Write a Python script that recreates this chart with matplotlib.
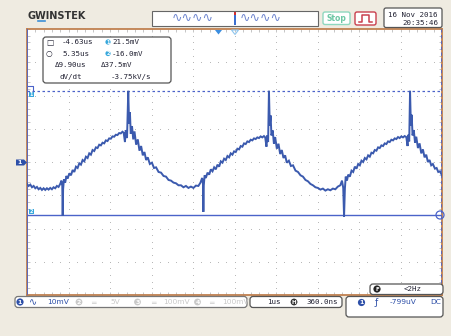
import numpy as np
import matplotlib
matplotlib.use("Agg")
import matplotlib.pyplot as plt
from matplotlib.patches import FancyBboxPatch, Rectangle, Circle, Polygon

# channel 1 trace, in divisions
# x: 0..10 left to right, y: -4..4 around the centre line
trace_x = [0.00, 0.04, 0.08, 0.12, 0.16, 0.20, 0.24, 0.28, 0.32, 0.36, 0.40, 0.44, 0.48, 0.52, 0.56,
           0.60, 0.64, 0.68, 0.72, 0.76, 0.80, 0.83, 0.85, 0.86, 0.87, 0.89, 0.92, 0.95, 0.98, 1.02,
           1.06, 1.10, 1.14, 1.18, 1.22, 1.26, 1.30, 1.34, 1.38, 1.42, 1.46, 1.50, 1.54, 1.58, 1.62,
           1.66, 1.70, 1.74, 1.78, 1.82, 1.86, 1.90, 1.94, 1.98, 2.02, 2.06, 2.10, 2.14, 2.18, 2.22,
           2.26, 2.30, 2.33, 2.36, 2.38, 2.41, 2.44, 2.46, 2.48, 2.50, 2.53, 2.56, 2.59, 2.63, 2.67,
           2.71, 2.75, 2.79, 2.83, 2.87, 2.91, 2.96, 3.01, 3.06, 3.11, 3.17, 3.23, 3.29, 3.35, 3.41,
           3.47, 3.53, 3.59, 3.65, 3.71, 3.77, 3.83, 3.89, 3.95, 4.01, 4.07, 4.13, 4.18, 4.22, 4.24,
           4.25, 4.26, 4.28, 4.31, 4.35, 4.39, 4.43, 4.47, 4.51, 4.55, 4.59, 4.63, 4.67, 4.71, 4.75,
           4.79, 4.83, 4.87, 4.91, 4.95, 4.99, 5.03, 5.07, 5.11, 5.15, 5.19, 5.23, 5.27, 5.31, 5.35,
           5.39, 5.43, 5.47, 5.51, 5.55, 5.59, 5.63, 5.67, 5.71, 5.74, 5.77, 5.79, 5.81, 5.83, 5.85,
           5.87, 5.89, 5.92, 5.95, 5.98, 6.02, 6.06, 6.10, 6.14, 6.18, 6.22, 6.26, 6.31, 6.36, 6.41,
           6.47, 6.53, 6.59, 6.65, 6.71, 6.77, 6.83, 6.89, 6.95, 7.01, 7.07, 7.13, 7.19, 7.25, 7.31,
           7.37, 7.43, 7.49, 7.55, 7.59, 7.62, 7.64, 7.66, 7.68, 7.71, 7.74, 7.78, 7.82, 7.86, 7.90,
           7.94, 7.98, 8.02, 8.06, 8.10, 8.14, 8.18, 8.22, 8.26, 8.30, 8.34, 8.38, 8.42, 8.46, 8.50,
           8.54, 8.58, 8.62, 8.66, 8.70, 8.74, 8.78, 8.82, 8.86, 8.90, 8.94, 8.98, 9.02, 9.06, 9.10,
           9.14, 9.17, 9.19, 9.21, 9.23, 9.25, 9.27, 9.29, 9.32, 9.35, 9.38, 9.42, 9.46, 9.50, 9.54,
           9.58, 9.62, 9.66, 9.70, 9.74, 9.78, 9.83, 9.87, 9.91, 9.95, 10.00]
trace_y = [-0.66, -0.72, -0.68, -0.76, -0.72, -0.79, -0.75, -0.82, -0.78, -0.84, -0.79, -0.84, -0.79, -0.83, -0.78,
           -0.82, -0.76, -0.79, -0.72, -0.75, -0.66, -0.56, -0.72, -1.62, -0.82, -0.52, -0.62, -0.42, -0.50, -0.34,
           -0.40, -0.24, -0.30, -0.14, -0.18, -0.04, -0.08, 0.06, 0.02, 0.16, 0.12, 0.26, 0.22, 0.36, 0.33,
           0.44, 0.42, 0.52, 0.50, 0.58, 0.56, 0.65, 0.63, 0.71, 0.70, 0.77, 0.76, 0.82, 0.81, 0.87,
           0.86, 0.91, 0.88, 0.60, 0.96, 0.72, 2.14, 1.15, 1.50, 0.85, 1.08, 0.68, 0.92, 0.52, 0.68,
           0.34, 0.48, 0.20, 0.30, 0.06, 0.14, -0.06, -0.02, -0.18, -0.16, -0.30, -0.32, -0.42, -0.44, -0.54,
           -0.56, -0.62, -0.64, -0.70, -0.70, -0.76, -0.72, -0.78, -0.74, -0.78, -0.71, -0.72, -0.62, -0.48, -0.66,
           -1.50, -0.70, -0.40, -0.48, -0.32, -0.38, -0.22, -0.28, -0.16, -0.22, -0.08, -0.14, 0.02, -0.02, 0.10,
           0.06, 0.18, 0.14, 0.26, 0.22, 0.32, 0.30, 0.40, 0.38, 0.48, 0.46, 0.56, 0.54, 0.62, 0.60,
           0.67, 0.65, 0.71, 0.69, 0.74, 0.72, 0.77, 0.74, 0.78, 0.74, 0.46, 0.80, 0.60, 2.14, 1.10,
           1.40, 0.80, 0.95, 0.55, 0.75, 0.40, 0.55, 0.24, 0.36, 0.12, 0.20, -0.02, 0.04, -0.12, -0.10,
           -0.26, -0.30, -0.40, -0.44, -0.54, -0.58, -0.66, -0.70, -0.76, -0.78, -0.83, -0.80, -0.86, -0.82, -0.85,
           -0.80, -0.82, -0.74, -0.70, -0.56, -0.78, -1.64, -0.80, -0.44, -0.56, -0.38, -0.44, -0.26, -0.30, -0.14,
           -0.20, -0.06, -0.10, 0.04, 0.00, 0.12, 0.08, 0.20, 0.16, 0.28, 0.26, 0.36, 0.34, 0.44, 0.42,
           0.50, 0.48, 0.56, 0.54, 0.62, 0.60, 0.67, 0.65, 0.71, 0.69, 0.75, 0.72, 0.77, 0.74, 0.78,
           0.75, 0.48, 0.82, 0.62, 2.14, 1.10, 1.42, 0.80, 0.96, 0.58, 0.76, 0.42, 0.56, 0.26, 0.38,
           0.14, 0.22, 0.00, 0.06, -0.10, -0.06, -0.20, -0.18, -0.30, -0.28, -0.40]

mv_per_div = 10.0       # CH1 10mV
us_per_div = 1.0        # 1us
h_pos_us = 0.36         # 360.0ns
cursor_t = [-4.63, 5.35]     # us
cursor_v = [21.5, -16.0]     # mV
readout_t = ["-4.63us", "5.35us", "\u03949.90us"]
readout_v = ["21.5mV", "-16.0mV", "\u039437.5mV"]
dvdt = "-3.75kV/s"

bg = "#efebe1"
frame = "#c0804f"
blue = "#3b5aae"
cur_blue = "#4b63c9"
cyan = "#38a8dc"
dark = "#222233"

W, H = 451, 336
fig = plt.figure(figsize=(W / 100, H / 100), dpi=100, facecolor=bg)

# scope screen
L, T, R, B = 27, 29, 442, 295
ax = fig.add_axes([L / W, 1 - B / H, (R - L) / W, (B - T) / H])
ax.set_xlim(0, 10)
ax.set_ylim(-4, 4)
ax.set_facecolor("white")
for s in ax.spines.values():
    s.set_color(frame)
    s.set_linewidth(1.3)
ax.set_xticks([])
ax.set_yticks([])
ax.set_xticks(np.arange(0, 10.01, 0.2), minor=True)
ax.set_yticks(np.arange(-4, 4.01, 0.2), minor=True)
ax.tick_params(which="minor", direction="in", length=2, width=0.6, color="#bbbbbb",
               top=True, right=True, labelbottom=False, labelleft=False)

# dotted graticule
for i in range(1, 10):
    yy = np.arange(-4, 4.01, 0.2)
    ax.plot(np.full_like(yy, i), yy, ls="none", marker="s", ms=0.7, color="#b5b5b5", mec="none")
for j in range(-3, 4):
    xx = np.arange(0, 10.01, 0.2)
    ax.plot(xx, np.full_like(xx, j), ls="none", marker="s", ms=0.7, color="#b5b5b5", mec="none")

ax.plot(trace_x, trace_y, color=blue, lw=1.4, zorder=5, solid_joinstyle="miter")

# cursors
x_left = (cursor_t[0] - h_pos_us) / us_per_div + 5
x_right = (cursor_t[1] - h_pos_us) / us_per_div + 5
ax.axvline(x_left, color=cur_blue, lw=1.2, zorder=4)
ax.axvline(x_right, color=cur_blue, lw=1.2, ls=(0, (2, 1.5)), zorder=4)
ax.axhline(cursor_v[0] / mv_per_div, color=cur_blue, lw=0.9, ls=(0, (2, 2)), zorder=4)
ax.axhline(cursor_v[1] / mv_per_div, color=cur_blue, lw=1.0, zorder=4)

# overlay in pixel coordinates for the scope furniture
ov = fig.add_axes([0, 0, 1, 1], zorder=5)
ov.set_xlim(0, W)
ov.set_ylim(H, 0)
ov.axis("off")
ov.patch.set_alpha(0)


def rbox(x0, y0, x1, y1, ec="#555555", fc="white", lw=0.8, r=2):
    ov.add_patch(FancyBboxPatch((x0, y0), x1 - x0, y1 - y0, boxstyle=f"round,pad=0,rounding_size={r}",
                                ec=ec, fc=fc, lw=lw))


def badge(x, y, txt, fc, r=3.6, fs=4.5):
    ov.add_patch(Circle((x, y), r, fc=fc, ec="none"))
    ov.text(x, y + 0.3, txt, color="white", fontsize=fs, ha="center", va="center", weight="bold")


mono = "DejaVu Sans Mono"

# header
ov.text(27, 16, "GWINSTEK", fontsize=7, weight="bold", color="#333333", va="center")
ov.plot([37.5, 44.5], [20.5, 20.5], color="#3d8fd6", lw=1.2)

ov.add_patch(Rectangle((152, 11), 166, 15, fc="white", ec="#666666", lw=0.8))
ov.text(172, 18.5, "\u223f\u223f\u223f\u223f", fontsize=9, color="#6f86d0", va="center", ha="left")
ov.text(240, 18.5, "\u223f\u223f\u223f\u223f", fontsize=9, color="#6f86d0", va="center", ha="left")
ov.add_patch(Rectangle((233.5, 12), 2.5, 13, fc="#3b6fd0", ec="none"))
ov.add_patch(Rectangle((233.5, 12), 2.5, 3, fc="#d03030", ec="none"))

rbox(323, 12, 350, 24.5, ec="#8fd8bf", lw=1.0)
ov.text(336.5, 18.5, "Stop", fontsize=5.5, weight="bold", color="#6cc7a4", ha="center", va="center")
rbox(355, 12, 376, 25, ec="#c9404e", lw=1.0)
ov.plot([359, 362, 362, 369, 369, 372], [22, 22, 15, 15, 22, 22], color="#c9404e", lw=1.1)

rbox(384, 8, 442, 27.5, ec="#555555", lw=0.9)
ov.text(438, 15, "16 Nov 2016", fontsize=5.4, family=mono, ha="right", va="center", color=dark)
ov.text(438, 23, "20:35:46", fontsize=5.4, family=mono, ha="right", va="center", color=dark)

# trigger / centre markers on top edge
ov.add_patch(Polygon([[215, 30], [222, 30], [218.5, 34.5]], closed=True, fc="#3b8ee0", ec="none"))
ov.add_patch(Polygon([[231.5, 30], [238.5, 30], [235, 34.5]], closed=True, fc="none", ec="#8fc6ee", lw=0.8))

# cursor readout
rbox(43, 37, 171, 83, ec="#555555", lw=0.9, r=3)
row_y = [42, 53.5, 65, 76.5]
ov.text(46, row_y[0], "\u25a1", fontsize=5.5, ha="left", va="center", color=dark)
ov.text(46, row_y[1], "\u25cb", fontsize=5.5, ha="left", va="center", color=dark)
ov.text(62, row_y[0], readout_t[0], fontsize=5.4, family=mono, ha="left", va="center", color=dark)
ov.text(62, row_y[1], readout_t[1], fontsize=5.4, family=mono, ha="left", va="center", color=dark)
ov.text(55, row_y[2], readout_t[2], fontsize=5.4, family=mono, ha="left", va="center", color=dark)
ov.text(59, row_y[3], "dV/dt", fontsize=5.4, family=mono, ha="left", va="center", color=dark)
badge(108, row_y[0], "1", cyan, r=2.6, fs=3.5)
badge(108, row_y[1], "2", cyan, r=2.6, fs=3.5)
ov.text(112, row_y[0], readout_v[0], fontsize=5.4, family=mono, ha="left", va="center", color=dark)
ov.text(112, row_y[1], readout_v[1], fontsize=5.4, family=mono, ha="left", va="center", color=dark)
ov.text(101, row_y[2], readout_v[2], fontsize=5.4, family=mono, ha="left", va="center", color=dark)
ov.text(111, row_y[3], dvdt, fontsize=5.4, family=mono, ha="left", va="center", color=dark)

# channel 1 ground marker and cursor tags
ov.add_patch(Polygon([[16, 159.5], [24, 159.5], [27, 162.5], [24, 165.5], [16, 165.5]], closed=True,
                     fc="#2d4fa8", ec="none"))
ov.text(20, 162.7, "1", fontsize=4.5, color="white", weight="bold", ha="center", va="center")
ov.plot([28, 33, 33], [85.5, 85.5, 89.5], color=cur_blue, lw=0.8)
ov.add_patch(Rectangle((28.5, 92), 5, 5, fc=cyan, ec="none"))
ov.text(31, 94.6, "1", fontsize=3.5, color="white", weight="bold", ha="center", va="center")
ov.add_patch(Rectangle((28.5, 208.5), 5, 5, fc=cyan, ec="none"))
ov.text(31, 211.1, "2", fontsize=3.5, color="white", weight="bold", ha="center", va="center")
ov.add_patch(Circle((440, 215), 4, fc="none", ec=cur_blue, lw=0.9))

# bottom status bar
rbox(15, 296.5, 247, 307.5, ec="#777777", lw=0.9, r=3)
badge(20, 302, "1", "#2d4fa8", r=3.6)
ov.text(33, 302, "\u223f", fontsize=7, color="#2d4fa8", ha="center", va="center")
ov.text(47, 302, "10mV", fontsize=5.4, color="#2d4fa8", ha="left", va="center")
grey = "#c9c9c9"
badge(79, 302, "2", grey, r=3.4)
ov.text(93, 302, "\u2550", fontsize=5.4, color=grey, ha="center", va="center")
ov.text(110, 302, "5V", fontsize=5.4, color=grey, ha="left", va="center")
badge(137.5, 302, "3", grey, r=3.4)
ov.text(153, 302, "\u2550", fontsize=5.4, color=grey, ha="center", va="center")
ov.text(163, 302, "100mV", fontsize=5.4, color=grey, ha="left", va="center")
badge(197.5, 302, "4", grey, r=3.4)
ov.text(211.5, 302, "\u2550", fontsize=5.4, color=grey, ha="center", va="center")
ov.text(222, 302, "100mV", fontsize=5.4, color=grey, ha="left", va="center")

rbox(250, 296.5, 342, 307.5, ec="#555555", lw=0.9, r=3)
ov.text(267, 302, "1us", fontsize=5.4, family=mono, color=dark, ha="left", va="center")
badge(294, 302, "H", "#333333", r=3.4, fs=4)
ov.text(306, 302, "360.0ns", fontsize=5.4, family=mono, color=dark, ha="left", va="center")

rbox(346, 296.5, 443, 317, ec="#555555", lw=0.9, r=3)
badge(361.5, 302.5, "1", "#2d4fa8", r=3.6)
ov.text(376.5, 302.5, "\u0192", fontsize=6.5, color="#2d4fa8", ha="center", va="center")
ov.text(390, 302.5, "-799uV", fontsize=5.4, color="#2d4fa8", ha="left", va="center")
ov.text(441, 302.5, "DC", fontsize=5.4, color="#2d4fa8", ha="right", va="center")

rbox(370, 284, 443, 294.5, ec="#555555", lw=0.9, r=3)
badge(377, 289, "F", "#222222", r=3.6, fs=4)
ov.text(404, 289.3, "<2Hz", fontsize=5.4, family=mono, color=dark, ha="left", va="center")

fig.savefig("out.png", dpi=100, facecolor=bg)
